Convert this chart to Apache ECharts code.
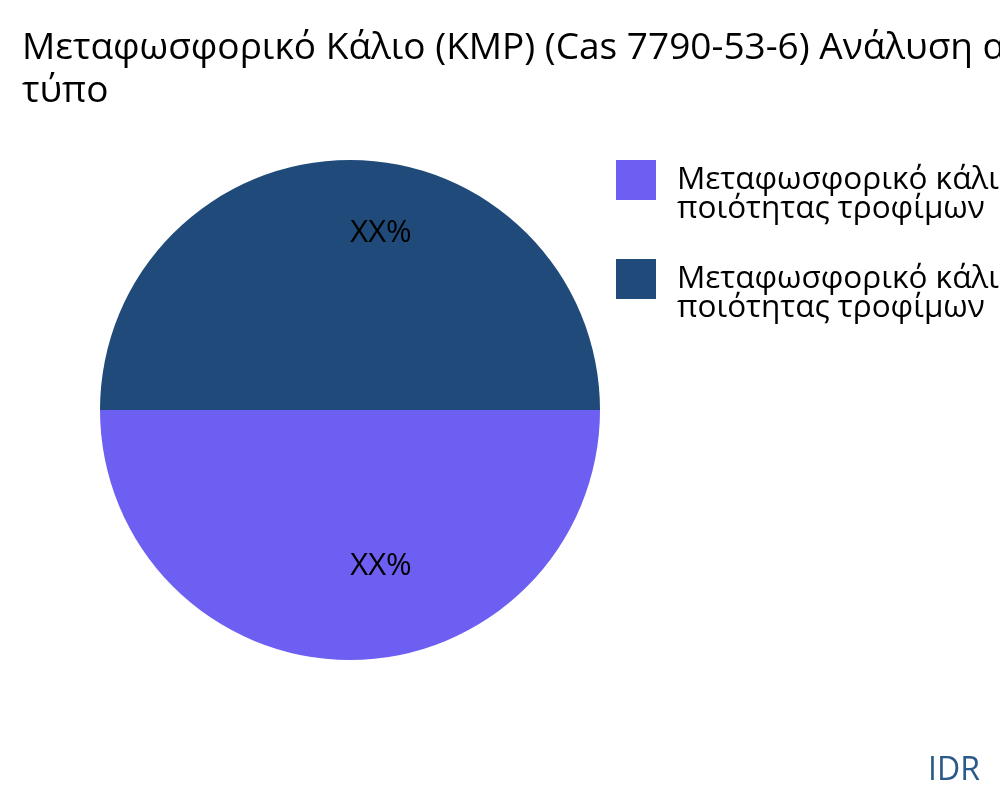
<!DOCTYPE html>
<html>
<head>
<meta charset="utf-8">
<script src="https://cdn.jsdelivr.net/npm/echarts@6/dist/echarts.min.js"></script>
<style>
html,body{margin:0;padding:0;background:#fff;}
#chart{width:1000px;height:800px;}
</style>
</head>
<body>
<div id="chart"></div>
<script>
const titleText = "Μεταφωσφορικό Κάλιο (KMP) (Cas 7790-53-6) Ανάλυση αγοράς ανά\nτύπο";
const categories = [
  "Μεταφωσφορικό κάλιο μη\nποιότητας τροφίμων",
  "Μεταφωσφορικό κάλιο\nποιότητας τροφίμων"
];
const values = [50, 50];
const labelTexts = ["XX%", "XX%"];
const colors = ["#6c5ff1", "#1f4a7a"];
const labelOffsets = [[31, 28], [31, -49]];

const chart = echarts.init(document.getElementById('chart'), null, {renderer: 'canvas'});
const font = "'Open Sans', 'Noto Sans', sans-serif";
chart.setOption({
  animation: false,
  backgroundColor: '#ffffff',
  title: {
    text: titleText,
    left: 17,
    top: 22,
    textStyle: {fontFamily: font, fontSize: 37, fontWeight: 'normal', color: '#000', lineHeight: 43}
  },
  legend: {
    orient: 'vertical',
    left: 611,
    top: 130,
    itemWidth: 40,
    itemHeight: 40,
    itemGap: 9,
    icon: 'rect',
    data: categories,
    formatter: name => '\n' + name,
    textStyle: {fontFamily: font, fontSize: 31.5, color: '#000', lineHeight: 29, padding: [0,0,0,16]}
  },
  graphic: [{
    type: 'text',
    right: 20,
    bottom: 13,
    style: {text: 'IDR', font: "32px 'Open Sans', sans-serif", fill: '#2a5a8a'}
  }],
  series: [{
    type: 'pie',
    center: [350, 410],
    radius: [0, 250],
    startAngle: 0,
    clockwise: true,
    avoidLabelOverlap: false,
    label: {position: 'inside', fontFamily: font, fontSize: 31, color: '#000'},
    labelLine: {show: false},
    emphasis: {disabled: true},
    data: categories.map((c, i) => ({
      name: c,
      value: values[i],
      itemStyle: {color: colors[i]},
      label: {formatter: labelTexts[i], offset: labelOffsets[i]}
    }))
  }]
});
</script>
</body>
</html>
